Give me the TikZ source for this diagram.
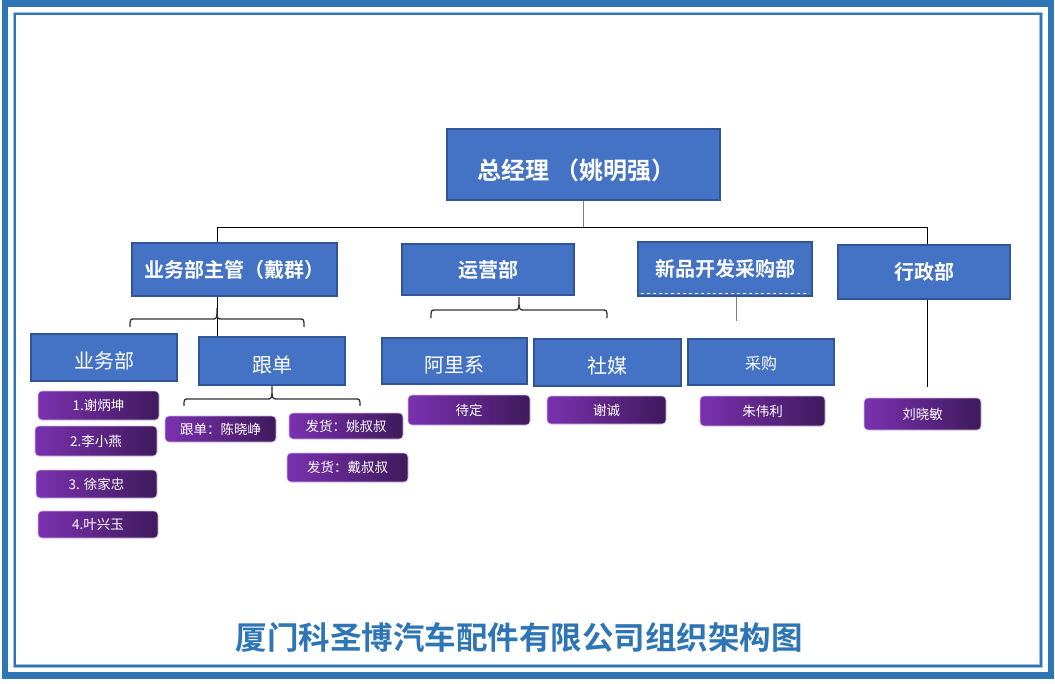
\documentclass[tikz,border=0pt]{standalone}
\usepackage{fontspec}
\newfontfamily\cjk{Noto Sans CJK SC}[BoldFont={Noto Sans CJK SC Bold}]
\usetikzlibrary{backgrounds}

\definecolor{frameblue}{HTML}{2E75B6}
\definecolor{boxblue}{HTML}{4472C4}
\definecolor{boxedge}{HTML}{2F5597}
\definecolor{staffleft}{HTML}{7B31B0}
\definecolor{staffright}{HTML}{3E1A5C}

% left x, tip x, right x, end y, flat y, tip y
\newcommand{\orgbrace}[6]{%
  \draw[brc] (#1,#4) .. controls (#1,#5) .. (#1+5,#5) -- (#2-5,#5)
    .. controls (#2,#5) .. (#2,#6) .. controls (#2,#5) .. (#2+5,#5)
    -- (#3-5,#5) .. controls (#3,#5) .. (#3,#4);}

\begin{document}
\begin{tikzpicture}[
    x=1pt, y=-1pt,
    head/.style={rectangle, draw=boxedge, line width=1.6pt, fill=boxblue, text=white, inner sep=0pt},
    dept/.style={head, font=\cjk\bfseries\fontsize{20}{24}\selectfont},
    team/.style={head, font=\cjk\fontsize{20}{24}\selectfont, text height=24pt, text depth=2pt},
    staff/.style={rectangle, rounded corners=4pt, draw=staffleft!35, line width=0.6pt, left color=staffleft, right color=staffright, text=white, inner sep=0pt, font=\cjk\fontsize{13.5}{16}\selectfont},
    link/.style={line width=1pt},
    brc/.style={line width=1.3pt, draw=black!80}
]
\useasboundingbox (0,0) rectangle (1055,683);

% -------- Frame --------
\draw[frameblue, line width=6.5pt] (5,3.5) rectangle (1051,675.5);
\draw[frameblue!45, line width=3.5pt] (14.5,13.5) rectangle (1041,666);
\draw[frameblue, line width=2pt] (14.5,13.5) rectangle (1041,666);

% -------- Top --------
\node[head, font=\cjk\bfseries\fontsize{24}{28}\selectfont, text height=33pt, text depth=3pt, minimum width=273, minimum height=71] (gm) at (583.5,164.5) {总经理 （姚明强）\hspace*{14pt}};

% -------- Row 2 --------
\node[dept, minimum width=205, minimum height=53] (ywzg) at (234.5,269.5) {业务部主管（戴群）};
\node[dept, minimum width=172, minimum height=51] (yyb) at (488,269.5) {运营部};
\node[dept, minimum width=174, minimum height=54] (xpkf) at (725,269) {新品开发采购部};
\node[dept, minimum width=172, minimum height=54] (xzb) at (924,272) {行政部};
\draw[white, dashed, line width=0.6pt] (641,293) -- (809,293);

% -------- Row 3 --------
\node[team, minimum width=146, minimum height=47] (ywb) at (104,357.5) {业务部};
\node[team, minimum width=146, minimum height=48] (gd) at (272,361) {跟单};
\node[team, minimum width=145, minimum height=46] (alx) at (454.5,361) {阿里系};
\node[team, minimum width=147, minimum height=47] (sm) at (607.5,362.5) {社媒};
\node[team, font=\cjk\fontsize{16}{20}\selectfont, text height=16pt, minimum width=146, minimum height=46] (cg) at (761,362) {采购};

% -------- Staff --------
\node[staff, minimum width=121, minimum height=29] (p1) at (98.5,405.5) {1.谢炳坤};
\node[staff, minimum width=122, minimum height=30] (p2) at (96,441) {2.李小燕};
\node[staff, minimum width=121, minimum height=28] (p3) at (96.5,484) {3. 徐家忠};
\node[staff, minimum width=120, minimum height=27] (p4) at (98,524.5) {4.叶兴玉};
\node[staff, minimum width=111, minimum height=26] (gd1) at (220.5,429) {跟单：陈晓峥};
\node[staff, minimum width=114, minimum height=26] (fh1) at (346,426) {发货：姚叔叔};
\node[staff, minimum width=121, minimum height=29] (fh2) at (347.5,467.5) {发货：戴叔叔};
\node[staff, minimum width=122, minimum height=30] (dd) at (469,410) {待定};
\node[staff, minimum width=119, minimum height=28] (xc) at (606.5,410) {谢诚};
\node[staff, minimum width=125, minimum height=30] (zwl) at (762.5,411) {朱伟利};
\node[staff, minimum width=117, minimum height=32] (lxm) at (922.5,414) {刘晓敏};

% -------- Title --------
\node[font=\cjk\bfseries\fontsize{31.5}{36}\selectfont, text=frameblue] (title) at (519,637) {厦门科圣博汽车配件有限公司组织架构图};

% -------- Lines --------
\begin{scope}[on background layer]
\coordinate (busL) at (217,227);
\coordinate (busR) at (927,227);
\coordinate (xzbEnd) at (927,387);
\coordinate (cgTop) at (736,321);
\draw[link, gray] (gm.south) -- (gm.south |- busL);
\draw[link] (busL) -- (busR);
\draw[link] (busL) -- (busL |- ywzg.north);
\draw[link] (busR) -- (busR |- xzb.north);
\draw[link] (busL |- ywzg.south) -- (busL |- gd.south);
\draw[link] (busR |- xzb.south) -- (xzbEnd);
\draw[link, gray] (cgTop |- xpkf.south) -- (cgTop);
\end{scope}

\orgbrace{130}{217}{304}{327}{319}{308}
\orgbrace{431}{519}{607}{318}{310}{297}
\orgbrace{184}{272}{360}{406}{399}{386}

\end{tikzpicture}
\end{document}
